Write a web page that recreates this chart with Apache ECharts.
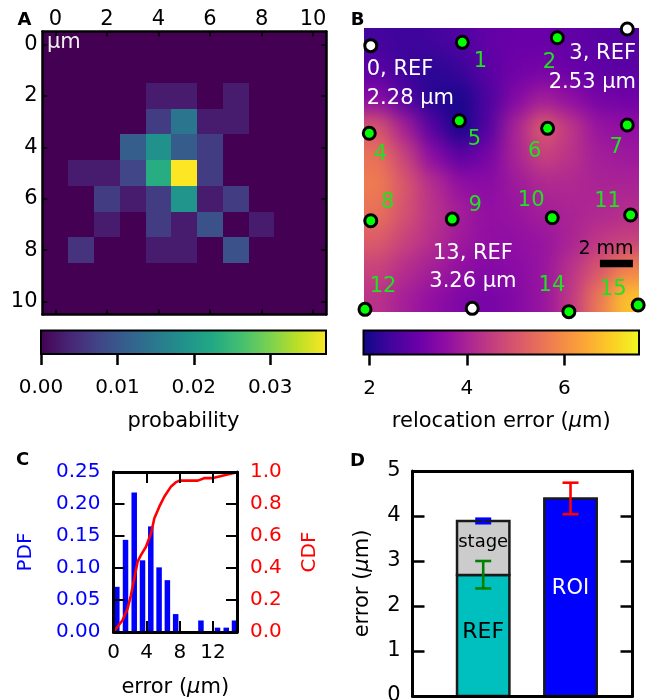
<!DOCTYPE html>
<html><head><meta charset="utf-8">
<script src="https://cdn.jsdelivr.net/npm/echarts@6/dist/echarts.min.js"></script>
<style>
html,body{margin:0;padding:0;background:#fff;}
#wrap{position:relative;width:652px;height:700px;overflow:hidden;}
#fieldClip{position:absolute;left:364px;top:28px;width:275px;height:284px;overflow:hidden;}
#field{position:absolute;left:-40px;top:-40px;width:355px;height:364px;filter:blur(10px);}
#main{position:absolute;left:0;top:0;width:652px;height:700px;}
</style></head>
<body><div id="wrap"><div id="fieldClip"><div id="field"></div></div><div id="main"></div></div>
<script>
// ================= DATA =================
// Panel A: probability map (rows = y in um, cols = x in um)
const heatTicks = [0, 2, 4, 6, 8, 10];
const probRows = [
  [0,0,0,0,0,0,0,0,0,0,0],
  [0,0,0,0,0,0,0,0,0,0,0],
  [0,0,0,0,0.0028,0.0028,0,0.0028,0,0,0],
  [0,0,0,0,0.0067,0.0145,0.0028,0.0028,0,0,0],
  [0,0,0,0.0110,0.0186,0.0108,0.0067,0,0,0,0],
  [0,0.0028,0.0028,0.0078,0.0230,0.0373,0.0067,0,0,0,0],
  [0,0,0.0067,0.0028,0.0067,0.0193,0.0028,0.0067,0,0,0],
  [0,0,0.0028,0,0.0067,0.0028,0.0093,0,0.0028,0,0],
  [0,0.0055,0,0,0.0028,0.0028,0,0.0093,0,0,0],
  [0,0,0,0,0,0,0,0,0,0,0],
  [0,0,0,0,0,0,0,0,0,0,0]
];
const probMin = 0, probMax = 0.0373;
const probTicks = [0, 0.01, 0.02, 0.03];

// Panel B: relocation error field (10 x 10 samples, top row first)
const errField = [
  [2.5, 2.4, 2.45,2.65,2.9, 3.0, 3.0, 2.9, 2.8, 2.7],
  [2.8, 2.4, 2.2, 2.35,2.8, 3.1, 3.2, 3.0, 2.85,2.8],
  [3.5, 2.7, 2.15,2.0, 2.6, 3.4, 3.9, 3.6, 3.2, 3.1],
  [5.0, 3.9, 2.7, 1.95,2.7, 4.0, 5.1, 4.4, 3.7, 3.6],
  [5.5, 4.6, 3.5, 2.8, 3.2, 4.0, 4.6, 4.3, 3.9, 3.8],
  [5.7, 5.0, 4.2, 3.6, 3.5, 3.8, 4.1, 4.1, 4.0, 4.0],
  [5.5, 4.9, 4.3, 3.9, 3.6, 3.7, 3.9, 4.0, 4.1, 4.2],
  [5.1, 4.6, 4.2, 3.8, 3.6, 3.6, 3.7, 4.0, 4.4, 4.6],
  [4.6, 4.2, 3.9, 3.6, 3.4, 3.5, 3.7, 4.3, 5.0, 5.8],
  [4.3, 3.9, 3.6, 3.3, 3.2, 3.4, 3.7, 4.4, 5.6, 6.8]
];
const errMin = 1.877, errMax = 7.53;
const errTicks = [2, 4, 6];

// Panel B: sites (mm)
const plateW = 16.67, plateH = 17.21;
const siteIds   = [0,1,2,3,4,5,6,7,8,9,10,11,12,13,14,15];
const siteX     = [0.41,5.96,11.72,15.96,0.32,5.78,11.13,15.96,0.41,5.35,11.41,16.16,0.06,6.56,12.42,16.62];
const siteY     = [1.07,0.87,0.59,0.06,6.38,5.62,6.08,5.88,11.68,11.58,11.50,11.33,17.05,16.99,17.19,16.79];
const siteIsRef = [true,false,false,true,false,false,false,false,false,false,false,false,false,true,false,false];
const refErrText = {0: '2.28', 3: '2.53', 13: '3.26'};
const scaleBarMm = 2, scaleBarStart = 14.3, scaleBarY = 14.27;

// Panel C: histogram + CDF of error (um)
const pdfCenters = [0.4,1.45,2.5,3.5,4.5,5.5,6.5,7.5,8.5,9.5,10.55,11.55,12.55,13.6,14.6];
const pdfValues  = [0.0706,0.144,0.218,0.112,0.165,0.101,0.081,0.028,0,0,0.018,0,0.0068,0.0068,0.018];
const cdfX = [0.08,1.09,1.70,2.10,2.51,2.91,3.31,3.92,4.53,4.93,5.54,6.14,6.95,7.56,7.96,10.18,10.99,12.0,14.9];
const cdfY = [0.006,0.073,0.146,0.23,0.335,0.44,0.48,0.533,0.617,0.711,0.785,0.847,0.91,0.937,0.946,0.946,0.962,0.962,0.998];
const errAxisMax = 14.9;
const errAxisTicks = [0, 4, 8, 12];

// Panel D: error budget (um)
const dNames   = ['REF', 'stage', 'ROI'];
const dPos     = [0, 0, 1];
const dValues  = [2.69, 1.20, 4.39];
const dStackOn = [-1, 0, -1];
const dErrLow  = [2.39, 3.84, 4.04];
const dErrHigh = [3.00, 3.94, 4.74];

// ================= STYLE =================
const FONT = 'DejaVu Sans';
const viridis = ['#440154','#482475','#414487','#355f8d','#2a788e','#21918c','#22a884','#44bf70','#7ad151','#bddf26','#fde725'];
const plasma  = ['#0d0887','#41049d','#6a00a8','#8f0da4','#b12a90','#cc4778','#e16462','#f2844b','#fca636','#fcce25','#f0f921'];
const siteLabelOffset = [null,[18,19],[-8,25],null,[11,21],[15,19],[-13,23],[-11,23],[17,-18],[23,-14],[-21,-17],[-23,-13],[18,-23],null,[-17,-26],[-25,-16]];
const refLabelStyle = {0:{align:'left', offset:[-4,38.5]}, 3:{align:'right', offset:[8.7,39]}, 13:{align:'center', offset:[0.7,-40.8]}};
const dColors = ['#00bfbf', '#cccccc', '#0000ff'];
const dTextColors = ['#000', '#000', '#fff'];
const dTextSize = [22, 18, 21];
const dTextDy = [-3, -6, -9];
const dBarWidth = 0.6;
const errColors = ['#008000', '#0000ff', '#ff0000'];

function line(w){ return {show:true, onZero:false, lineStyle:{color:'#000', width:w}}; }
function tick(len, vals, w, inside){
  const t = {show:true, inside: inside !== false, length:len, lineStyle:{color:'#000', width:w}};
  if (vals) t.customValues = vals;
  return t;
}
function label(o){ return Object.assign({show:true, color:'#000', fontSize:20, fontFamily:FONT}, o); }
function ax(o){
  return Object.assign({type:'value', z:5, nameMoveOverlap:false, splitLine:{show:false},
    axisLine:{show:false, onZero:false}, axisTick:{show:false}, axisLabel:{show:false}}, o);
}
function nameStyle(color, size){ return {color:color, fontSize:size, fontFamily:FONT, rich:{it:{fontStyle:'italic', fontSize:size, fontFamily:FONT, color:color}}}; }
function gradientStops(cols){ return cols.map((c,i)=>({offset:i/(cols.length-1), color:c})); }
function snapRect(p0, p1){
  const x0 = Math.round(Math.min(p0[0],p1[0])), x1 = Math.round(Math.max(p0[0],p1[0]));
  const y0 = Math.round(Math.min(p0[1],p1[1])), y1 = Math.round(Math.max(p0[1],p1[1]));
  return {x:x0, y:y0, width:x1-x0, height:y1-y0};
}

// ================= FIELD (panel B background) =================
const fieldChart = echarts.init(document.getElementById('field'), null, {renderer:'canvas'});
const nR = errField.length, nC = errField[0].length;
const fieldData = [];
errField.forEach((row, j) => row.forEach((v, i) => fieldData.push([i, j, v])));
fieldChart.setOption({
  animation:false,
  backgroundColor:'transparent',
  grid:{left:40, top:40, width:275, height:284, outerBoundsMode:'none'},
  xAxis:{type:'value', min:0, max:nC, show:false},
  yAxis:{type:'value', min:0, max:nR, inverse:true, show:false},
  visualMap:{type:'continuous', show:false, min:errMin, max:errMax, dimension:2, seriesIndex:0, inRange:{color:plasma}},
  series:[{
    type:'custom', data:fieldData, encode:{x:0, y:1}, clip:false,
    renderItem(params, api){
      const i = api.value(0), j = api.value(1);
      const cs = params.coordSys;
      const r = snapRect(api.coord([i, j]), api.coord([i+1, j+1]));
      let x0 = r.x, x1 = r.x + r.width, y0 = r.y, y1 = r.y + r.height;
      if (i === 0) x0 = cs.x - 40;
      if (i === nC-1) x1 = cs.x + cs.width + 40;
      if (j === 0) y0 = cs.y - 40;
      if (j === nR-1) y1 = cs.y + cs.height + 40;
      return {type:'rect', shape:{x:x0, y:y0, width:x1-x0, height:y1-y0}, style:{fill:api.visual('color')}};
    }
  }]
});

// ================= MAIN =================
const chart = echarts.init(document.getElementById('main'), null, {renderer:'canvas'});

const heatData = [];
probRows.forEach((row, r) => row.forEach((v, c) => heatData.push([c, r, v])));

const siteData = siteIds.map((id, k) => {
  const ref = siteIsRef[k];
  const item = {value:[siteX[k], siteY[k]], itemStyle:{color: ref ? '#ffffff' : '#00ff00'}};
  if (ref) {
    const st = refLabelStyle[id];
    item.label = {show:true, formatter: id + ', REF\n' + refErrText[id] + ' μm', position:'inside',
      align:st.align, verticalAlign:'middle', offset:st.offset, color:'#ffffff', fontSize:21, lineHeight:28.4, fontFamily:FONT};
  } else {
    item.label = {show:true, formatter:String(id), position:'inside', offset:siteLabelOffset[k],
      color:'#22e022', fontSize:21, fontFamily:FONT};
  }
  return item;
});

function colorbar(xIdx, yIdx, lo, hi, cols){
  return {type:'custom', xAxisIndex:xIdx, yAxisIndex:yIdx, data:[[lo, hi]], silent:true, clip:false, z:2,
    encode:{x:[0,1]},
    renderItem(params, api){
      const p0 = api.coord([api.value(0), 0]), p1 = api.coord([api.value(1), 1]);
      return {type:'rect', shape:{x:Math.min(p0[0],p1[0]), y:Math.min(p0[1],p1[1]), width:Math.abs(p1[0]-p0[0]), height:Math.abs(p1[1]-p0[1])},
        style:{fill:new echarts.graphic.LinearGradient(0,0,1,0, gradientStops(cols)), stroke:'#000', lineWidth:2}};
    }};
}

const dBottom = dValues.map((v,k) => dStackOn[k] >= 0 ? dValues[dStackOn[k]] : 0);

const option = {
  animation:false,
  backgroundColor:'transparent',
  textStyle:{fontFamily:FONT},
  grid:[
    {left:42.5, top:31.5, width:283.5, height:283, outerBoundsMode:'none'},
    {left:364, top:28, width:275, height:284, outerBoundsMode:'none'},
    {left:41, top:330.5, width:285, height:23.5, outerBoundsMode:'none'},
    {left:363.5, top:330.5, width:275.5, height:24, outerBoundsMode:'none'},
    {left:113.5, top:472, width:123.5, height:160, outerBoundsMode:'none'},
    {left:412.5, top:471, width:220, height:225, outerBoundsMode:'none'}
  ],
  visualMap:[{type:'continuous', show:false, seriesIndex:0, dimension:2, min:probMin, max:probMax, inRange:{color:viridis}}],
  xAxis:[
    ax({gridIndex:0, position:'top', min:-0.5, max:10.5, axisLine:line(2.5), axisTick:tick(5, heatTicks, 1.5), axisLabel:label({customValues:heatTicks, margin:1, fontSize:21})}),
    ax({gridIndex:0, position:'bottom', min:-0.5, max:10.5, axisLine:line(2.5), axisTick:tick(5, heatTicks, 1.5)}),
    ax({gridIndex:1, min:0, max:plateW, show:false}),
    ax({gridIndex:2, position:'bottom', min:probMin, max:probMax, axisTick:tick(11, probTicks, 2.5, false),
      axisLabel:label({customValues:probTicks, margin:24, formatter:v=>v.toFixed(2)}),
      name:'probability', nameLocation:'middle', nameGap:57, nameTextStyle:nameStyle('#000', 21)}),
    ax({gridIndex:3, position:'bottom', min:errMin, max:errMax, axisTick:tick(11, errTicks, 2.5, false),
      axisLabel:label({customValues:errTicks, margin:24, formatter:v=>String(Math.round(v))}),
      name:'relocation error ({it|μ}m)', nameLocation:'middle', nameGap:57, nameTextStyle:nameStyle('#000', 21)}),
    ax({gridIndex:4, position:'bottom', min:0, max:errAxisMax, axisLine:line(3), axisTick:tick(11, errAxisTicks, 2),
      axisLabel:label({customValues:errAxisTicks, margin:11, formatter:v=>String(Math.round(v))}),
      name:'error ({it|μ}m)', nameLocation:'middle', nameGap:45, nameTextStyle:nameStyle('#000', 21)}),
    ax({gridIndex:4, position:'top', min:0, max:errAxisMax, axisLine:line(3), axisTick:tick(11, errAxisTicks, 2)}),
    ax({gridIndex:5, position:'bottom', min:-0.81, max:1.71, axisLine:line(3)}),
    ax({gridIndex:5, position:'top', min:-0.81, max:1.71, axisLine:line(3)})
  ],
  yAxis:[
    ax({gridIndex:0, position:'left', inverse:true, min:-0.5, max:10.5, axisLine:line(2.5), axisTick:tick(5, heatTicks, 1.5), axisLabel:label({customValues:heatTicks, margin:5, fontSize:21})}),
    ax({gridIndex:0, position:'right', inverse:true, min:-0.5, max:10.5, axisLine:line(2.5), axisTick:tick(5, heatTicks, 1.5)}),
    ax({gridIndex:1, inverse:true, min:0, max:plateH, show:false}),
    ax({gridIndex:2, min:0, max:1, show:false}),
    ax({gridIndex:3, min:0, max:1, show:false}),
    ax({gridIndex:4, position:'left', min:0, max:0.25, interval:0.05, axisLine:line(3), axisTick:tick(11, null, 2),
      axisLabel:label({margin:13, color:'#0000ff', formatter:v=>v.toFixed(2)}),
      name:'PDF', nameLocation:'middle', nameGap:78, nameTextStyle:nameStyle('#0000ff', 20)}),
    ax({gridIndex:4, position:'right', min:0, max:1, interval:0.2, axisLine:line(3), axisTick:tick(11, null, 2),
      axisLabel:label({margin:13, color:'#ff0000', formatter:v=>v.toFixed(1)}),
      name:'CDF', nameLocation:'middle', nameGap:63, nameTextStyle:nameStyle('#ff0000', 20)}),
    ax({gridIndex:5, position:'left', min:0, max:5, interval:1, axisLine:line(3), axisTick:tick(12, null, 2.5),
      axisLabel:label({margin:12, fontSize:21}),
      name:'error ({it|μ}m)', nameLocation:'middle', nameGap:39, nameTextStyle:nameStyle('#000', 21)}),
    ax({gridIndex:5, position:'right', min:0, max:5, interval:1, axisLine:line(3), axisTick:tick(12, null, 2.5)})
  ],
  series:[
    // 0: panel A cells
    {type:'custom', xAxisIndex:0, yAxisIndex:0, data:heatData, encode:{x:0, y:1}, clip:true, z:2,
      renderItem(params, api){
        const c = api.value(0), r = api.value(1);
        return {type:'rect', shape:snapRect(api.coord([c-0.5, r-0.5]), api.coord([c+0.5, r+0.5])),
          style:{fill:api.visual('color'), stroke:null, lineWidth:0}};
      }},
    // 1: panel B sites
    {type:'scatter', xAxisIndex:2, yAxisIndex:2, data:siteData, symbol:'circle', symbolSize:12, clip:false, z:4,
      itemStyle:{borderColor:'#000', borderWidth:3, opacity:1}},
    // 2: scale bar
    {type:'line', xAxisIndex:2, yAxisIndex:2, data:[[scaleBarStart, scaleBarY],[scaleBarStart+scaleBarMm, scaleBarY]],
      symbol:'none', lineStyle:{color:'#000', width:7.5, cap:'butt'}, clip:false, z:3},
    // 3,4: colorbars
    colorbar(3, 3, probMin, probMax, viridis),
    colorbar(4, 4, errMin, errMax, plasma),
    // 5: histogram
    {type:'bar', xAxisIndex:5, yAxisIndex:5, data:pdfCenters.map((c,k)=>[c, pdfValues[k]]), barWidth:5.5,
      itemStyle:{color:'#0000ff'}, z:2},
    // 6: CDF
    {type:'line', xAxisIndex:5, yAxisIndex:6, data:cdfX.map((x,k)=>[x, cdfY[k]]), symbol:'none',
      lineStyle:{color:'#ff0000', width:2.6}, z:3},
    // 7: panel D bars
    {type:'custom', xAxisIndex:7, yAxisIndex:7, clip:false, z:2,
      data:dNames.map((n,k)=>[dPos[k], dBottom[k], dBottom[k]+dValues[k]]), encode:{x:0, y:[1,2]},
      renderItem(params, api){
        const k = params.dataIndex;
        const x = api.value(0);
        const w = api.size([dBarWidth, 0])[0];
        const pT = api.coord([x, api.value(2)]), pB = api.coord([x, api.value(1)]);
        return {type:'rect', shape:{x:pT[0]-w/2, y:pT[1], width:w, height:pB[1]-pT[1]},
          style:{fill:dColors[k], stroke:'#1a1a1a', lineWidth:2.5},
          textContent:{style:{text:dNames[k], fill:dTextColors[k], fontSize:dTextSize[k], fontFamily:FONT}},
          textConfig:{position:'inside', offset:[0, dTextDy[k]]}};
      }},
    // 8: panel D error bars
    {type:'custom', xAxisIndex:7, yAxisIndex:7, clip:false, z:4,
      data:dNames.map((n,k)=>[dPos[k], dErrLow[k], dErrHigh[k]]), encode:{x:0, y:[1,2]},
      renderItem(params, api){
        const k = params.dataIndex;
        const x = api.value(0);
        const pL = api.coord([x, api.value(1)]), pH = api.coord([x, api.value(2)]);
        const cap = 8;
        const ls = {stroke:errColors[k], lineWidth:2.6};
        return {type:'group', children:[
          {type:'line', shape:{x1:pL[0], y1:pL[1], x2:pH[0], y2:pH[1]}, style:ls},
          {type:'line', shape:{x1:pL[0]-cap, y1:pL[1], x2:pL[0]+cap, y2:pL[1]}, style:ls},
          {type:'line', shape:{x1:pH[0]-cap, y1:pH[1], x2:pH[0]+cap, y2:pH[1]}, style:ls}
        ]};
      }}
  ],
  graphic:[
    {type:'text', x:24.5, y:20, z:10, style:{text:'A', fill:'#000', fontSize:18, fontWeight:'bold', fontFamily:FONT, align:'center', verticalAlign:'middle'}},
    {type:'text', x:357.5, y:20, z:10, style:{text:'B', fill:'#000', fontSize:18, fontWeight:'bold', fontFamily:FONT, align:'center', verticalAlign:'middle'}},
    {type:'text', x:22.5, y:460, z:10, style:{text:'C', fill:'#000', fontSize:18, fontWeight:'bold', fontFamily:FONT, align:'center', verticalAlign:'middle'}},
    {type:'text', x:357.5, y:461.5, z:10, style:{text:'D', fill:'#000', fontSize:18, fontWeight:'bold', fontFamily:FONT, align:'center', verticalAlign:'middle'}},
    {type:'text', x:47, y:43, z:10, style:{text:'μm', fill:'#eeeeee', fontSize:21, fontFamily:FONT, align:'left', verticalAlign:'middle'}},
    {type:'text', x:606, y:249.5, z:10, style:{text:'2 mm', fill:'#000', fontSize:19, fontFamily:FONT, align:'center', verticalAlign:'middle'}}
  ]
};
chart.setOption(option);
</script></body></html>
